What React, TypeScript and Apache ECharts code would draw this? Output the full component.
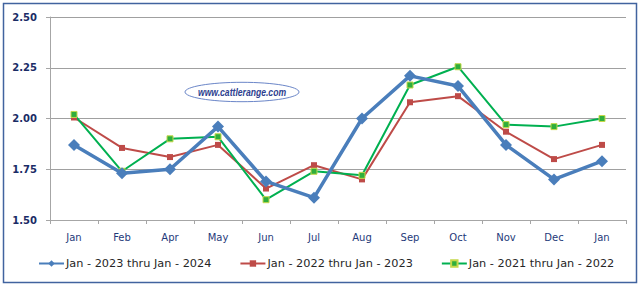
import React, { useEffect, useRef } from "react";
import * as echarts from "echarts";

const categories = ["Jan", "Feb", "Apr", "May", "Jun", "Jul", "Aug", "Sep", "Oct", "Nov", "Dec", "Jan"];
const series2023 = [1.87, 1.73, 1.75, 1.96, 1.69, 1.61, 2.0, 2.21, 2.16, 1.87, 1.7, 1.79];
const series2022 = [2.005, 1.855, 1.81, 1.87, 1.655, 1.77, 1.7, 2.08, 2.11, 1.935, 1.8, 1.87];
const series2021 = [2.02, 1.74, 1.9, 1.91, 1.6, 1.74, 1.72, 2.165, 2.255, 1.97, 1.96, 2.0];
const seriesNames = ["Jan - 2023 thru Jan - 2024", "Jan - 2022 thru Jan - 2023", "Jan - 2021 thru Jan - 2022"];
const yTicks = { min: 1.5, max: 2.5, interval: 0.25 };

export default function App() {
  const ref = useRef<HTMLDivElement>(null);
  useEffect(() => {
    document.body.style.margin = "0";
    const chart = echarts.init(ref.current!, undefined, { renderer: "svg" });
    const font = "'DejaVu Sans', Verdana, sans-serif";
    chart.setOption({
      animation: false,
      backgroundColor: "#ffffff",
      grid: { left: 50, right: 17, top: 17, bottom: 66, containLabel: false },
      xAxis: {
        type: "category",
        data: categories,
        boundaryGap: true,
        axisLine: { lineStyle: { color: "#a6a6a6", width: 1 } },
        axisTick: { show: true, length: 4, lineStyle: { color: "#a6a6a6" } },
        axisLabel: { color: "#1f3a7a", fontFamily: font, fontSize: 10, margin: 12 },
      },
      yAxis: {
        type: "value",
        min: yTicks.min,
        max: yTicks.max,
        interval: yTicks.interval,
        axisLine: { show: true, lineStyle: { color: "#a6a6a6", width: 1 } },
        axisTick: { show: true, length: 4, lineStyle: { color: "#a6a6a6" } },
        splitLine: { lineStyle: { color: "#a0a0a0", width: 1 } },
        axisLabel: {
          color: "#1a2c66",
          fontFamily: font,
          fontWeight: "bold",
          fontSize: 10,
          margin: 13,
          formatter: (v: number) => v.toFixed(2),
        },
      },
      legend: {
        left: 38,
        top: 258,
        padding: 0,
        itemWidth: 25,
        itemHeight: 8,
        itemGap: 28,
        textStyle: { color: "#262626", fontFamily: font, fontSize: 11.3, padding: [0, 0, 0, -3] },
        data: seriesNames,
      },
      graphic: [
        {
          type: "rect",
          silent: true,
          z: -1,
          shape: { x: 3.5, y: 3.5, width: 633, height: 279 },
          style: { fill: "none", stroke: "#41639f", lineWidth: 1.5 },
        },
        {
          type: "ellipse",
          silent: true,
          shape: { cx: 242, cy: 92, rx: 57, ry: 9.7 },
          style: { fill: "#ffffff", stroke: "#6b86c8", lineWidth: 1 },
        },
        {
          type: "text",
          silent: true,
          x: 242,
          y: 92,
          scaleX: 0.82,
          style: {
            text: "www.cattlerange.com",
            fill: "#2e3f8f",
            font: "italic bold 10.5px 'Liberation Sans', Arial, sans-serif",
            align: "center",
            verticalAlign: "middle",
          },
        },
      ],
      series: [
        {
          name: seriesNames[0],
          type: "line",
          data: series2023,
          z: 4,
          symbol: "diamond",
          symbolSize: 12,
          lineStyle: { color: "#4a7ebb", width: 3.5 },
          itemStyle: { color: "#4a7ebb" },
        },
        {
          name: seriesNames[1],
          type: "line",
          data: series2022,
          z: 3,
          symbol: "rect",
          symbolSize: 6,
          lineStyle: { color: "#be4b48", width: 2 },
          itemStyle: { color: "#be4b48" },
        },
        {
          name: seriesNames[2],
          type: "line",
          data: series2021,
          z: 3,
          symbol: "rect",
          symbolSize: 6,
          lineStyle: { color: "#00b050", width: 2 },
          itemStyle: { color: "#2fae3c", borderColor: "#c5d84a", borderWidth: 1 },
        },
      ],
    });
    return () => chart.dispose();
  }, []);
  return <div ref={ref} style={{ width: 643, height: 286 }} />;
}
